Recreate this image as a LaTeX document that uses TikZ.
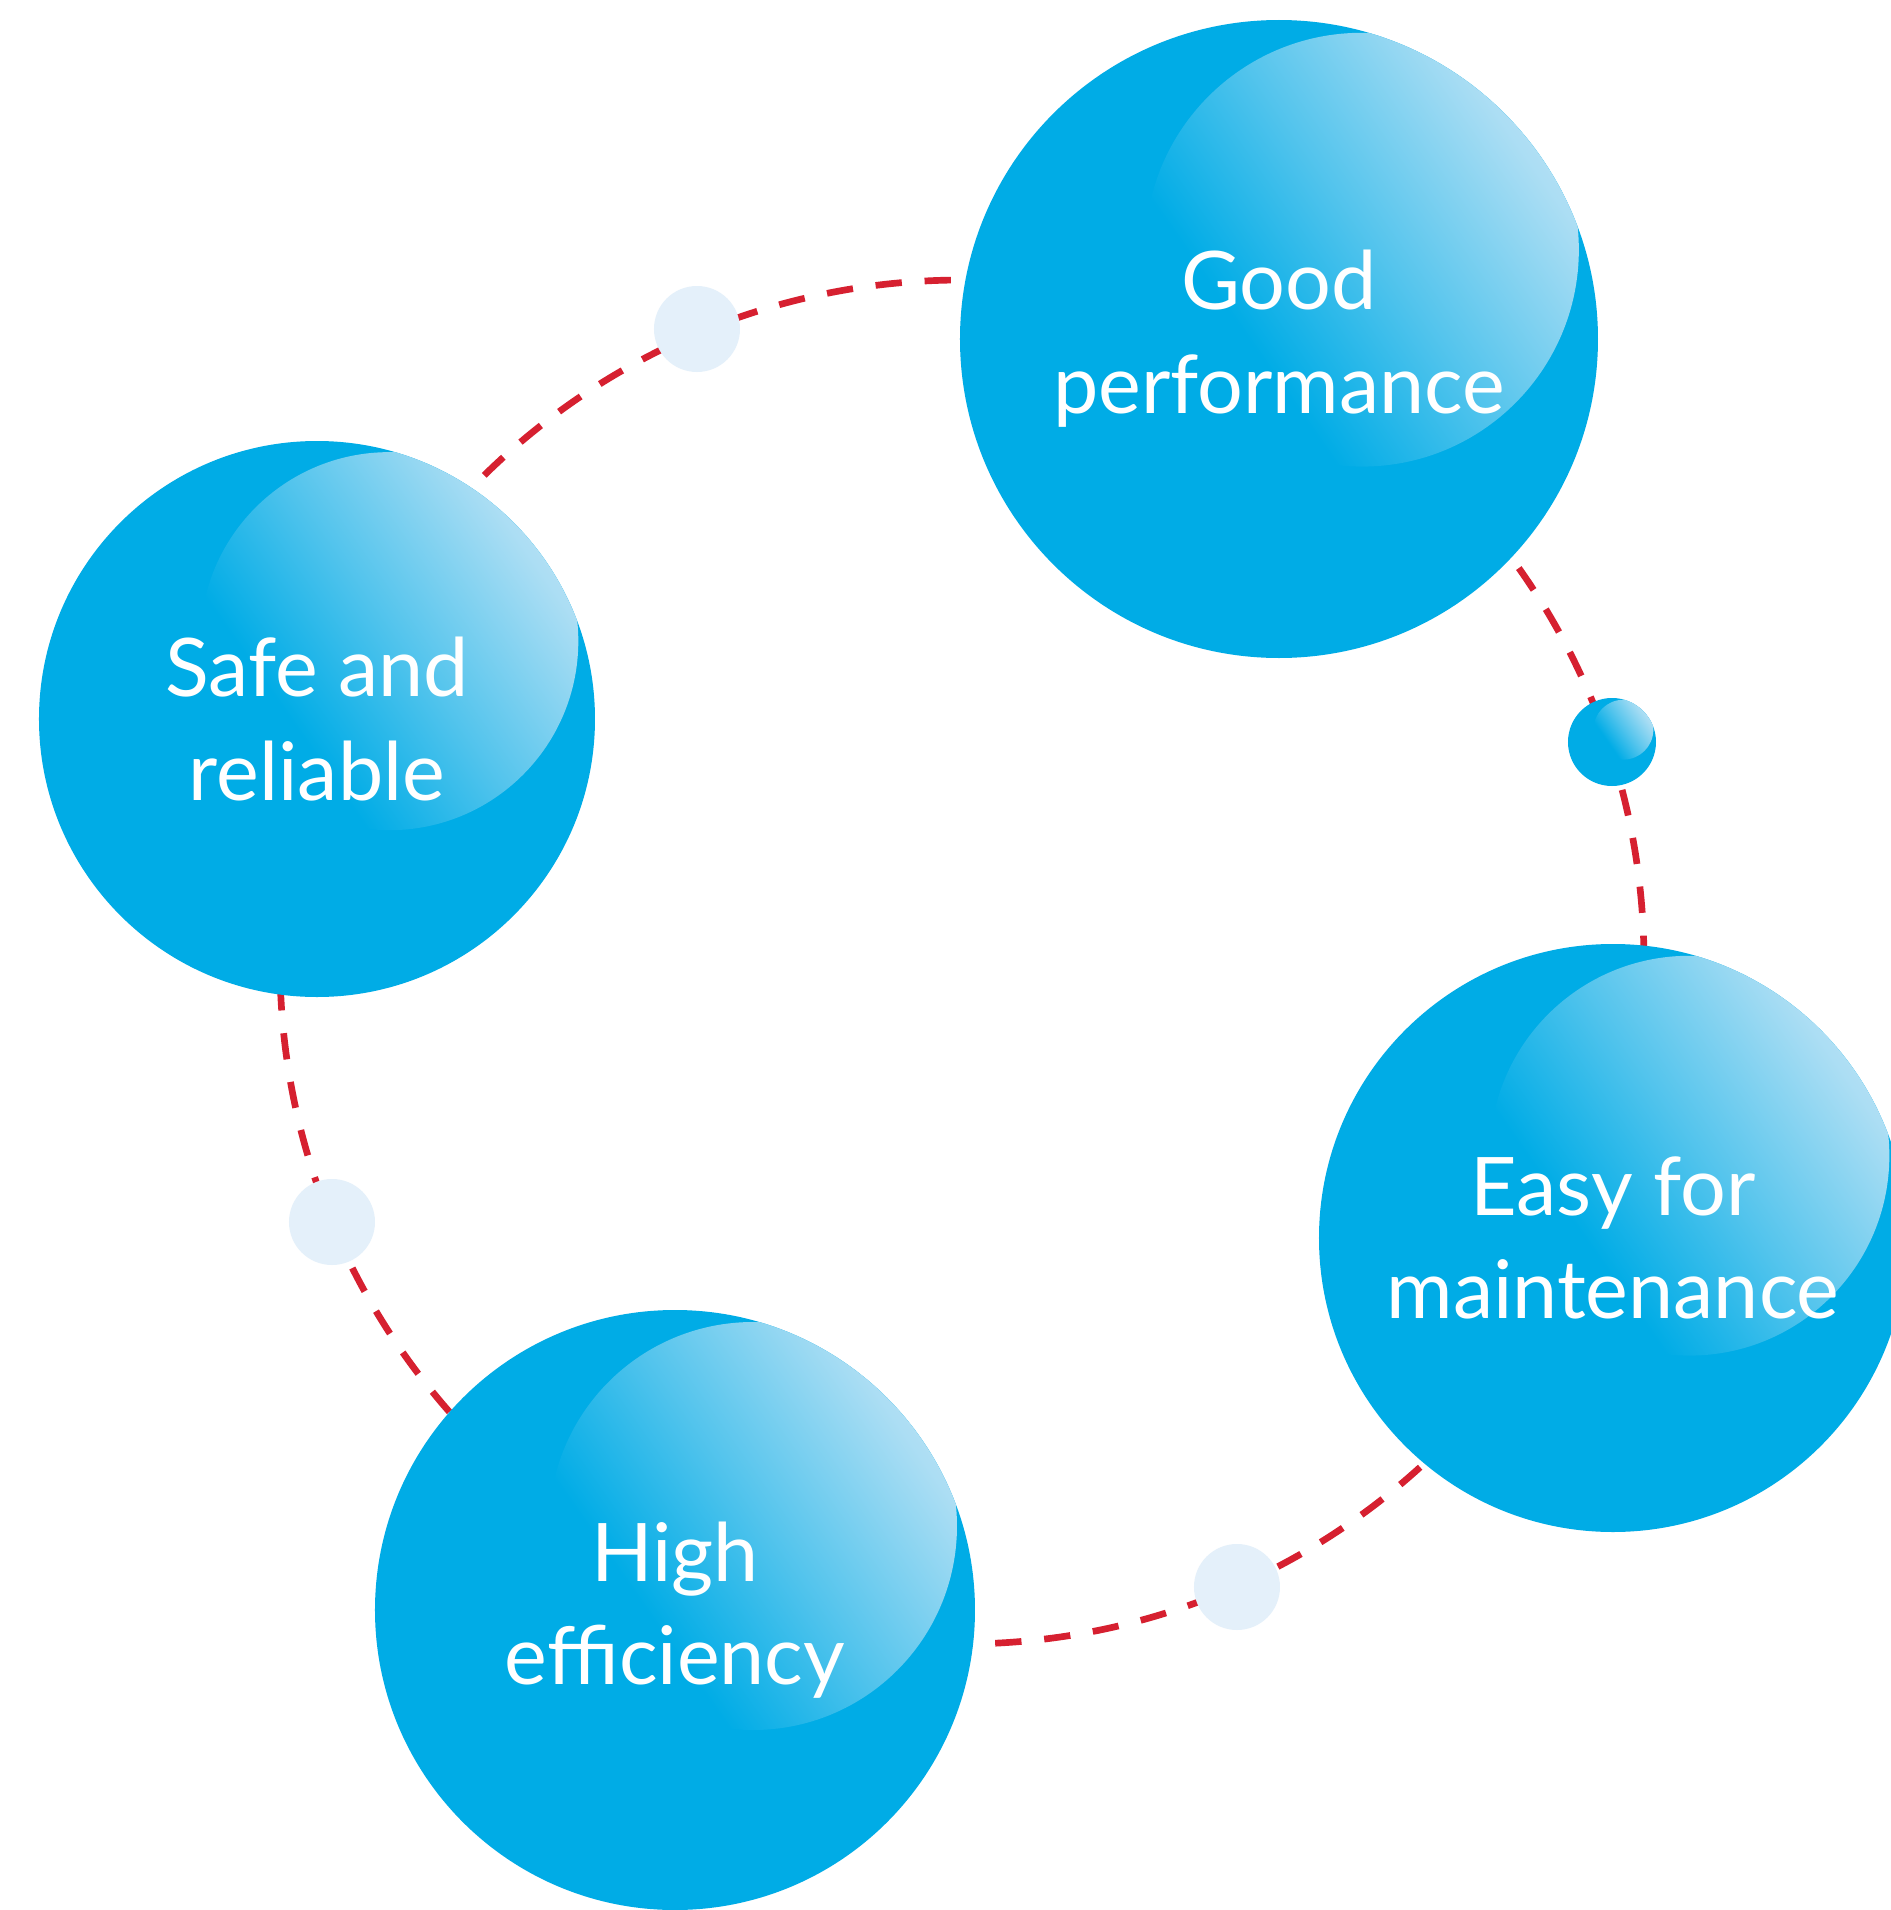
\documentclass[tikz,border=0pt]{standalone}
\usepackage{fontspec}
\setmainfont{Lato}
\usetikzlibrary{calc}
\definecolor{ballblue}{RGB}{0,172,230}
\definecolor{glowblue}{RGB}{214,234,247}
\definecolor{paleblue}{RGB}{228,240,250}
\definecolor{dashred}{RGB}{214,32,48}
\pgfdeclareverticalshading{gloss}{100bp}{color(0bp)=(ballblue); color(48bp)=(ballblue);
  color(60bp)=(ballblue!62!glowblue); color(74bp)=(ballblue!20!glowblue);
  color(84bp)=(glowblue); color(100bp)=(glowblue)}
\newcommand\balltext{\fontsize{23}{29.5}\selectfont}
\tikzset{
  ball/.style={circle, inner sep=0pt, minimum size=#1, fill=ballblue,
    text=white, align=center, font=\balltext,
    path picture={\shade[shading=gloss, shading angle=-55]
      ($(path picture bounding box.center)+(0.13*#1,0.14*#1)$) circle[radius=0.34*#1];}},
  dot/.style={circle, inner sep=0pt, minimum size=0.86cm, fill=paleblue},
  link/.style={draw=dashred, line width=1.9pt, dash pattern=on 7.5pt off 6.5pt}
}

\begin{document}
\begin{tikzpicture}[x=1cm, y=1cm]
    \useasboundingbox (-9.62,-9.48) rectangle (9.29,9.62);
    \fill[white] (-9.62,-9.48) rectangle (9.29,9.62);
    % dashed ring behind the bubbles
    \coordinate (hub) at (0,0);
    \draw[link] (hub) circle[radius=6.82];
    % the four big bubbles
    \node[ball=6.38cm] (good) at (3.17,6.23) {Good\\performance};
    \node[ball=5.56cm] (safe) at (-6.45,2.43) {Safe and\\reliable};
    \node[ball=5.88cm] (easy) at (6.51,-2.76) {Easy for\\maintenance};
    \node[ball=6.00cm] (high) at (-2.87,-6.48) {High\\efficiency};
    % small bubbles on the ring
    \node[dot] (b1) at (-2.65,6.33) {};
    \node[ball=0.88cm] (b2) at (6.50,2.20) {};
    \node[dot] (b3) at (-6.30,-2.60) {};
    \node[dot] (b4) at (2.75,-6.25) {};
  \end{tikzpicture}
\end{document}
